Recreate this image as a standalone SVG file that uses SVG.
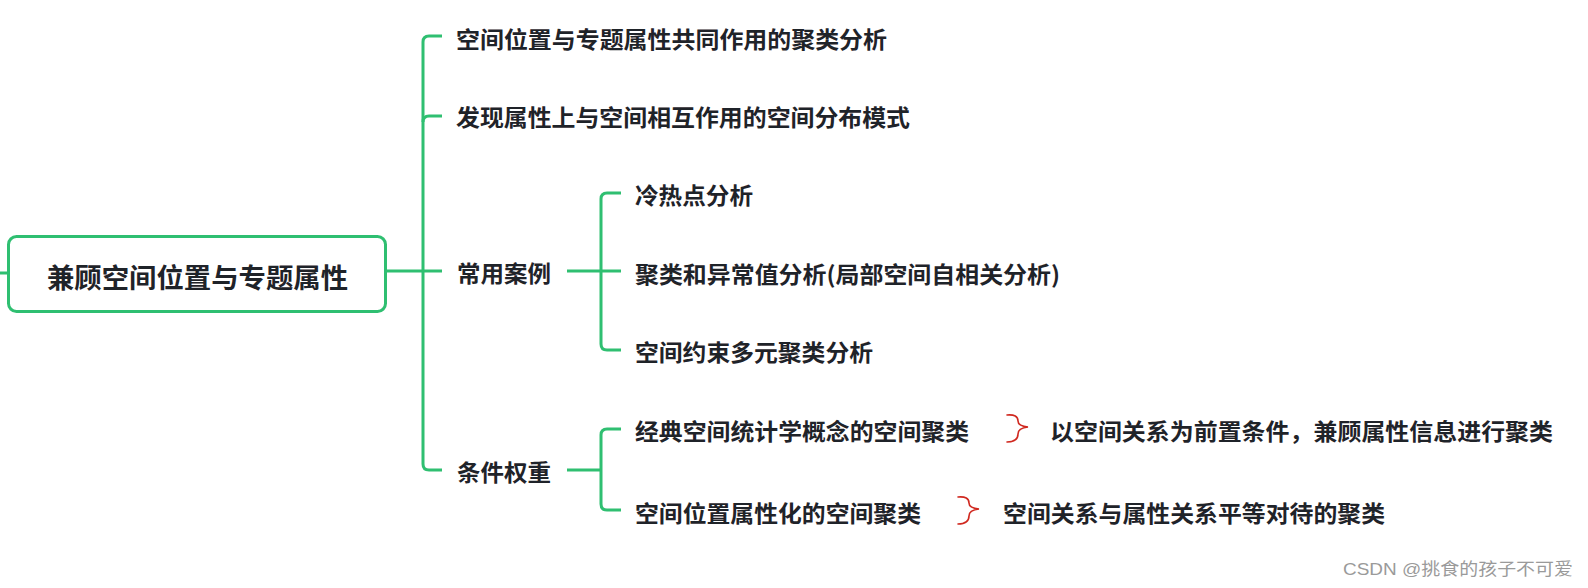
<svg xmlns="http://www.w3.org/2000/svg" width="1588" height="588" viewBox="0 0 1588 588">
<style>
.ln{fill:none;stroke:#2fbf71;stroke-width:3;stroke-linecap:butt;stroke-linejoin:round}
.br{fill:none;stroke:#d0281f;stroke-width:1.6;stroke-linecap:round}
.t{font-family:"Noto Sans CJK SC","Noto Sans",sans-serif;font-weight:bold;font-size:23px;fill:#1f2329;dominant-baseline:central}
.root{font-size:27px}
.wm{font-family:"Liberation Sans","Noto Sans CJK SC",sans-serif;font-size:17px;fill:#9a9a9a;dominant-baseline:central}
</style>
<rect width="1588" height="588" fill="#ffffff"/>
<g id="connectors">
<path class="ln" d="M0 273 H8"/>
<path class="ln" d="M386 271 H423"/>
<path class="ln" d="M442 36 H429 Q423 36 423 42 V464 Q423 470 429 470 H442"/>
<path class="ln" d="M423 122 Q423 116 429 116 H442"/>
<path class="ln" d="M423 271 H442"/>
<path class="ln" d="M567 271 H621"/>
<path class="ln" d="M621 193 H607 Q601 193 601 199 V344 Q601 350 607 350 H621"/>
<path class="ln" d="M567 470 H601"/>
<path class="ln" d="M621 429 H607 Q601 429 601 435 V504 Q601 510 607 510 H621"/>
<path class="br" d="M1007 415 Q1018 414 1018 421 Q1018 426 1028 427 Q1018 428 1018 434 Q1018 442 1007 442"/>
<path class="br" d="M958 497 Q969 496 969 503 Q969 508 979 509 Q969 510 969 516 Q969 524 958 524"/>
</g>
<g id="root">
<rect x="8.5" y="236.5" width="377" height="75" rx="8" fill="#ffffff" stroke="#2fbf71" stroke-width="3"/>
<text class="t root" x="47" y="276" textLength="301" lengthAdjust="spacingAndGlyphs">兼顾空间位置与专题属性</text>
</g>
<g id="n1"><text class="t" x="456" y="38" textLength="431" lengthAdjust="spacingAndGlyphs">空间位置与专题属性共同作用的聚类分析</text></g>
<g id="n2"><text class="t" x="456" y="116" textLength="454" lengthAdjust="spacingAndGlyphs">发现属性上与空间相互作用的空间分布模式</text></g>
<g id="n3"><text class="t" x="457" y="272" textLength="94" lengthAdjust="spacingAndGlyphs">常用案例</text></g>
<g id="n3a"><text class="t" x="635" y="194" textLength="118" lengthAdjust="spacingAndGlyphs">冷热点分析</text></g>
<g id="n3b"><text class="t" x="635" y="273" textLength="425" lengthAdjust="spacingAndGlyphs">聚类和异常值分析(局部空间自相关分析)</text></g>
<g id="n3c"><text class="t" x="635" y="351" textLength="238" lengthAdjust="spacingAndGlyphs">空间约束多元聚类分析</text></g>
<g id="n4"><text class="t" x="457" y="471" textLength="94" lengthAdjust="spacingAndGlyphs">条件权重</text></g>
<g id="n4a"><text class="t" x="635" y="430" textLength="334" lengthAdjust="spacingAndGlyphs">经典空间统计学概念的空间聚类</text></g>
<g id="n4b"><text class="t" x="635" y="512" textLength="286" lengthAdjust="spacingAndGlyphs">空间位置属性化的空间聚类</text></g>
<g id="n4a-note"><text class="t" x="1050" y="430" textLength="503" lengthAdjust="spacingAndGlyphs">以空间关系为前置条件，兼顾属性信息进行聚类</text></g>
<g id="n4b-note"><text class="t" x="1003" y="512" textLength="382" lengthAdjust="spacingAndGlyphs">空间关系与属性关系平等对待的聚类</text></g>
<text class="wm" x="1343" y="569" textLength="230" lengthAdjust="spacingAndGlyphs">CSDN @挑食的孩子不可爱</text>
</svg>
